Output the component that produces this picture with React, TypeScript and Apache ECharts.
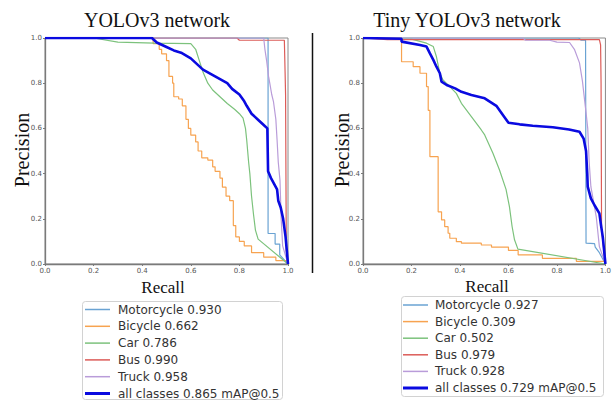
import React, { useEffect, useRef } from "react";
import * as echarts from "echarts";

// ---------- data: [recall, precision] ----------
const classNames = ["Motorcycle", "Bicycle", "Car", "Bus", "Truck", "all classes"];
const leftAP = ["0.930", "0.662", "0.786", "0.990", "0.958", "0.865"];
const rightAP = ["0.927", "0.309", "0.502", "0.979", "0.928", "0.729"];

const L_motorcycle = [[0, 1], [0.918, 1], [0.918, 0.135], [0.947, 0.135], [0.947, 0.088], [0.966, 0.088], [0.966, 0.04], [1, 0]];
const L_bicycle = [[0, 1], [0.44, 1], [0.445, 0.975], [0.47, 0.95], [0.48, 0.93], [0.5, 0.9], [0.51, 0.83], [0.525, 0.8], [0.53, 0.74], [0.55, 0.73], [0.565, 0.7], [0.58, 0.64], [0.59, 0.6], [0.6, 0.57], [0.62, 0.54], [0.63, 0.5], [0.645, 0.47], [0.67, 0.46], [0.69, 0.43], [0.7, 0.41], [0.72, 0.38], [0.73, 0.34], [0.745, 0.3], [0.76, 0.28], [0.775, 0.17], [0.785, 0.12], [0.8, 0.1], [0.82, 0.08], [0.85, 0.05], [0.9, 0.03], [0.95, 0.015], [1, 0]];
const L_car = [[0, 1], [0.2, 1], [0.3, 0.982], [0.45, 0.977], [0.6, 0.975], [0.62, 0.95], [0.635, 0.9], [0.65, 0.85], [0.67, 0.8], [0.69, 0.77], [0.72, 0.74], [0.75, 0.71], [0.78, 0.685], [0.8, 0.665], [0.815, 0.645], [0.825, 0.6], [0.83, 0.55], [0.838, 0.45], [0.843, 0.4], [0.85, 0.3], [0.858, 0.22], [0.866, 0.15], [0.877, 0.11], [1, 0]];
const L_bus = [[0, 1], [0.79, 1], [0.8, 0.99], [0.985, 0.99], [0.988, 0.85], [0.99, 0.75], [0.993, 0.06], [1, 0]];
const L_truck = [[0, 1], [0.9, 1], [0.905, 0.95], [0.912, 0.9], [0.92, 0.83], [0.925, 0.8], [0.933, 0.75], [0.94, 0.72], [0.95, 0.64], [0.955, 0.55], [0.96, 0.45], [0.967, 0.37], [0.972, 0.2], [0.978, 0.08], [1, 0]];
const L_all = [[0, 1], [0.44, 1], [0.46, 0.98], [0.5, 0.96], [0.53, 0.945], [0.56, 0.935], [0.6, 0.91], [0.63, 0.88], [0.65, 0.86], [0.7, 0.83], [0.75, 0.8], [0.77, 0.775], [0.8, 0.75], [0.82, 0.72], [0.83, 0.7], [0.85, 0.665], [0.88, 0.635], [0.9, 0.615], [0.915, 0.6], [0.918, 0.41], [0.93, 0.38], [0.945, 0.35], [0.955, 0.33], [0.96, 0.28], [0.97, 0.25], [0.98, 0.2], [0.99, 0.12], [1, 0]];

const R_motorcycle = [[0, 1], [0.89, 1], [0.9, 0.99], [0.918, 0.99], [0.92, 0.092], [0.955, 0.09], [0.958, 0.075], [0.975, 0.05], [0.99, 0.02], [1, 0]];
const R_bicycle = [[0, 1], [0.159, 1], [0.159, 0.895], [0.207, 0.895], [0.207, 0.873], [0.235, 0.873], [0.235, 0.844], [0.262, 0.785], [0.269, 0.68], [0.276, 0.475], [0.31, 0.475], [0.31, 0.231], [0.324, 0.195], [0.337, 0.165], [0.351, 0.136], [0.358, 0.114], [0.385, 0.099], [0.406, 0.092], [0.488, 0.084], [0.53, 0.075], [0.6, 0.06], [0.64, 0.04], [0.74, 0.025], [0.88, 0.012], [1, 0]];
const R_car = [[0, 1], [0.2, 0.995], [0.262, 0.977], [0.29, 0.962], [0.303, 0.917], [0.317, 0.844], [0.33, 0.814], [0.358, 0.785], [0.385, 0.755], [0.406, 0.711], [0.447, 0.652], [0.488, 0.593], [0.502, 0.571], [0.536, 0.49], [0.563, 0.416], [0.59, 0.33], [0.604, 0.254], [0.615, 0.166], [0.625, 0.107], [0.639, 0.066], [1, 0]];
const R_bus = [[0, 1], [0.1, 0.993], [0.975, 0.993], [0.98, 0.97], [0.982, 0.8], [0.984, 0.15], [1, 0]];
const R_truck = [[0, 1], [0.66, 1], [0.67, 0.99], [0.77, 0.99], [0.8, 0.982], [0.852, 0.98], [0.872, 0.95], [0.893, 0.89], [0.905, 0.81], [0.92, 0.67], [0.927, 0.6], [0.933, 0.45], [0.94, 0.342], [0.962, 0.21], [0.975, 0.077], [1, 0]];
const R_all = [[0, 1], [0.159, 0.997], [0.159, 0.984], [0.235, 0.969], [0.262, 0.962], [0.276, 0.932], [0.29, 0.903], [0.303, 0.873], [0.317, 0.844], [0.324, 0.807], [0.345, 0.792], [0.38, 0.777], [0.406, 0.762], [0.447, 0.748], [0.502, 0.733], [0.55, 0.7], [0.58, 0.655], [0.6, 0.625], [0.646, 0.618], [0.7, 0.612], [0.783, 0.605], [0.85, 0.595], [0.893, 0.585], [0.91, 0.555], [0.92, 0.5], [0.925, 0.4], [0.927, 0.342], [0.94, 0.29], [0.955, 0.26], [0.975, 0.224], [0.982, 0.17], [0.989, 0.12], [1, 0]];

const leftCurves = [L_motorcycle, L_bicycle, L_car, L_bus, L_truck, L_all];
const rightCurves = [R_motorcycle, R_bicycle, R_car, R_bus, R_truck, R_all];
const colors = ["#6aa3d3", "#f7a350", "#7cc27c", "#dc5c58", "#b99cd9", "#0a0ae0"];
const widths = [1.2, 1.2, 1.2, 1.2, 1.2, 2.6];

export default function App() {
  const ref = useRef<HTMLDivElement>(null);
  useEffect(() => {
    if (!ref.current) return;
    const chart = echarts.init(ref.current, null, { renderer: "svg" });
    const mkName = (i: number, ap: string[]) =>
      i === 5 ? `all classes ${ap[i]} mAP@0.5` : `${classNames[i]} ${ap[i]}`;
    const leftNames = classNames.map((_, i) => mkName(i, leftAP));
    const rightNames = classNames.map((_, i) => mkName(i, rightAP));

    const axisCommon = {
      type: "value" as const,
      min: 0,
      max: 1,
      interval: 0.2,
      splitLine: { show: false },
      axisLine: { show: true, lineStyle: { color: "#7a7a7a", width: 1.3 } },
      axisTick: { show: true, length: 2, lineStyle: { color: "#7a7a7a" } },
      axisLabel: {
        fontSize: 7,
        fontFamily: "DejaVu Sans",
        color: "#555",
        margin: 3,
        formatter: (v: number) => v.toFixed(1),
      },
    };

    const mkSeries = (curves: number[][][], names: string[], idx: number) =>
      curves.map((d, i) => ({
        type: "line",
        name: names[i],
        xAxisIndex: idx,
        yAxisIndex: idx,
        data: d,
        symbol: "none",
        step: i === 1 ? "end" : false,
        lineStyle: { color: colors[i], width: widths[i] },
        itemStyle: { color: colors[i] },
        z: i === 5 ? 5 : 2,
      }));

    // hand-drawn legend boxes (matplotlib style)
    const mkLegend = (names: string[], box: { x: number; y: number; w: number; h: number }, lineX: number, textX: number, y0: number, dy: number) => {
      const els: any[] = [
        { type: "rect", shape: { x: box.x, y: box.y, width: box.w, height: box.h, r: 3 }, style: { fill: "#fff", stroke: "#d2d2d2", lineWidth: 1 }, z: 10 },
      ];
      names.forEach((n, i) => {
        const y = y0 + i * dy;
        els.push({ type: "line", shape: { x1: lineX, y1: y, x2: lineX + 25, y2: y }, style: { stroke: colors[i], lineWidth: i === 5 ? 3 : 1.5 }, z: 11 });
        els.push({ type: "text", x: textX, y, style: { text: n, font: "12px DejaVu Sans", fill: "#333", align: "left", verticalAlign: "middle" }, z: 11 });
      });
      return els;
    };

    const serif = "Liberation Serif, Times New Roman, serif";

    chart.setOption({
      animation: false,
      backgroundColor: "#fff",
      grid: [
        { left: 45, top: 38, width: 243, height: 226, show: true, borderColor: "#8a8a8a", borderWidth: 1 },
        { left: 363, top: 38, width: 243, height: 226, show: true, borderColor: "#8a8a8a", borderWidth: 1 },
      ],
      xAxis: [
        { ...axisCommon, gridIndex: 0 },
        { ...axisCommon, gridIndex: 1 },
      ],
      yAxis: [
        { ...axisCommon, gridIndex: 0 },
        { ...axisCommon, gridIndex: 1 },
      ],
      series: [...mkSeries(leftCurves, leftNames, 0), ...mkSeries(rightCurves, rightNames, 1)],
      graphic: [
        { type: "text", x: 157, y: 20, style: { text: "YOLOv3 network", font: `20px ${serif}`, fill: "#111", align: "center", verticalAlign: "middle" } },
        { type: "text", x: 467, y: 20, style: { text: "Tiny YOLOv3 network", font: `20px ${serif}`, fill: "#111", align: "center", verticalAlign: "middle" } },
        { type: "text", x: 22, y: 150, rotation: Math.PI / 2, style: { text: "Precision", font: `20px ${serif}`, fill: "#111", align: "center", verticalAlign: "middle" } },
        { type: "text", x: 342, y: 150, rotation: Math.PI / 2, style: { text: "Precision", font: `20px ${serif}`, fill: "#111", align: "center", verticalAlign: "middle" } },
        { type: "text", x: 163, y: 287, style: { text: "Recall", font: `17px ${serif}`, fill: "#111", align: "center", verticalAlign: "middle" } },
        { type: "text", x: 487, y: 286, style: { text: "Recall", font: `17px ${serif}`, fill: "#111", align: "center", verticalAlign: "middle" } },
        { type: "line", shape: { x1: 312.5, y1: 33, x2: 312.5, y2: 273 }, style: { stroke: "#111", lineWidth: 1.5 } },
        ...mkLegend(leftNames, { x: 82.5, y: 301.5, w: 200, h: 98 }, 85, 118, 309.5, 16.8),
        ...mkLegend(rightNames, { x: 401.5, y: 296.5, w: 202, h: 100 }, 403, 435, 305, 16.6),
      ],
    });
    return () => chart.dispose();
  }, []);
  return <div ref={ref} style={{ position: "absolute", left: 0, top: 0, width: 614, height: 400 }} />;
}
